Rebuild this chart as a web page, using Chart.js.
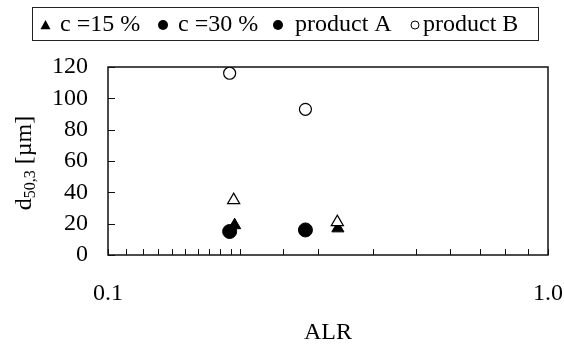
<!DOCTYPE html>
<html>
<head>
<meta charset="utf-8">
<script src="https://cdn.jsdelivr.net/npm/chart.js@4.4.0/dist/chart.umd.min.js"></script>
<style>
  html, body { margin: 0; padding: 0; background: #fff; }
</style>
</head>
<body>
<canvas id="alr-chart" width="564" height="347"></canvas>
<script>
// d50,3 vs ALR
const seriesLabels = ['c =15 %', 'c =30 %', 'product A', 'product B'];
const alrC15 = [0.194, 0.333];
const d50C15 = [19, 17];
const alrC30 = [0.189, 0.281];
const d50C30 = [15, 16];
const alrProdA = [0.193, 0.332];
const d50ProdA = [35, 21];
const alrProdB = [0.189, 0.281];
const d50ProdB = [116, 93];
const xTickText = { 0.1: '0.1', 1: '1.0' };

const serif = "'Liberation Serif', 'Times New Roman', serif";

function toPoints(xs, ys) {
  return xs.map((x, i) => ({ x: x, y: ys[i] }));
}

// frame + inward tick marks
const framePlugin = {
  id: 'frame',
  beforeDatasetsDraw(chart) {
    const ctx = chart.ctx;
    const a = chart.chartArea;
    const xs = chart.scales.x, ys = chart.scales.y;
    ctx.save();
    ctx.strokeStyle = '#111';
    ctx.lineWidth = 1;
    ys.ticks.forEach(t => {
      const py = Math.round(ys.getPixelForValue(t.value)) + 0.5;
      ctx.beginPath(); ctx.moveTo(a.left, py); ctx.lineTo(a.left + 7, py); ctx.stroke();
    });
    xs.ticks.forEach(t => {
      const px = Math.round(xs.getPixelForValue(t.value)) + 0.5;
      ctx.beginPath(); ctx.moveTo(px, a.bottom); ctx.lineTo(px, a.bottom - 6); ctx.stroke();
    });
    ctx.lineWidth = 1.5;
    ctx.strokeRect(a.left, a.top, a.right - a.left, a.bottom - a.top);
    ctx.restore();
  }
};

function drawMarker(ctx, m, cx, cy) {
  ctx.beginPath();
  if (m.shape === 'triangle') {
    const r = m.size;
    ctx.moveTo(cx, cy - r);
    ctx.lineTo(cx + r, cy + r * 0.85);
    ctx.lineTo(cx - r, cy + r * 0.85);
    ctx.closePath();
  } else {
    ctx.arc(cx, cy, m.size, 0, Math.PI * 2);
  }
  if (m.filled) {
    ctx.fillStyle = '#000';
    ctx.fill();
  } else {
    ctx.fillStyle = '#fff';
    ctx.fill();
    ctx.strokeStyle = '#000';
    ctx.lineWidth = 1;
    ctx.stroke();
  }
}

// boxed legend on top + y title with subscript
const legendPlugin = {
  id: 'boxLegend',
  afterDraw(chart) {
    const ctx = chart.ctx;
    ctx.save();
    ctx.strokeStyle = '#222';
    ctx.lineWidth = 1;
    ctx.strokeRect(32.5, 7.5, 506, 33);

    const markerX = [45.5, 163, 278, 415];
    const textX = [60, 178, 295, 423];
    ctx.font = '24px ' + serif;
    ctx.textBaseline = 'middle';
    ctx.textAlign = 'left';
    chart.data.datasets.forEach((ds, i) => {
      drawMarker(ctx, ds.legendMarker, markerX[i], 25);
      ctx.fillStyle = '#000';
      ctx.fillText(ds.label, textX[i], 25);
    });

    // y axis title: d50,3 [µm]
    const big = '24px ' + serif, small = '16px ' + serif;
    ctx.font = big;
    const w1 = ctx.measureText('d').width;
    const w3 = ctx.measureText(' [µm]').width;
    ctx.font = small;
    const w2 = ctx.measureText('50,3').width;
    const total = w1 + w2 + w3;
    const a = chart.chartArea;
    ctx.translate(25, (a.top + a.bottom) / 2 + 2);
    ctx.rotate(-Math.PI / 2);
    ctx.textBaseline = 'middle';
    let x0 = -total / 2;
    ctx.fillStyle = '#000';
    ctx.font = big;
    ctx.fillText('d', x0, 0);
    ctx.font = small;
    ctx.fillText('50,3', x0 + w1, 6);
    ctx.font = big;
    ctx.fillText(' [µm]', x0 + w1 + w2, 0);
    ctx.restore();
  }
};

const datasets = [
  {
    label: seriesLabels[0],
    data: toPoints(alrC15, d50C15),
    pointStyle: 'triangle',
    pointRadius: 7,
    backgroundColor: '#000',
    borderColor: '#000',
    borderWidth: 1,
    order: 3,
    legendMarker: { shape: 'triangle', size: 5, filled: true }
  },
  {
    label: seriesLabels[1],
    data: toPoints(alrC30, d50C30),
    pointStyle: 'circle',
    pointRadius: 7,
    backgroundColor: '#000',
    borderColor: '#000',
    borderWidth: 1,
    order: 2,
    legendMarker: { shape: 'circle', size: 5, filled: true }
  },
  {
    label: seriesLabels[2],
    data: toPoints(alrProdA, d50ProdA),
    pointStyle: 'triangle',
    pointRadius: 7,
    backgroundColor: '#fff',
    borderColor: '#000',
    borderWidth: 1.2,
    order: 0,
    legendMarker: { shape: 'circle', size: 5, filled: true }
  },
  {
    label: seriesLabels[3],
    data: toPoints(alrProdB, d50ProdB),
    pointStyle: 'circle',
    pointRadius: 6,
    backgroundColor: '#fff',
    borderColor: '#000',
    borderWidth: 1.2,
    order: 1,
    legendMarker: { shape: 'circle', size: 4, filled: false }
  }
];

const ctx = document.getElementById('alr-chart');
new Chart(ctx, {
  type: 'scatter',
  data: { datasets: datasets },
  options: {
    responsive: false,
    animation: false,
    layout: { padding: { top: 67, right: 16, left: 0, bottom: 0 } },
    plugins: {
      legend: { display: false },
      tooltip: { enabled: false }
    },
    scales: {
      x: {
        type: 'logarithmic',
        min: 0.1,
        max: 1,
        grid: { display: false, drawTicks: false },
        border: { display: false },
        ticks: {
          autoSkip: false,
          maxRotation: 0,
          padding: 24,
          color: '#000',
          font: { family: serif, size: 24 },
          callback: (v) => xTickText[v] || ''
        },
        title: {
          display: true,
          text: 'ALR',
          color: '#000',
          font: { family: serif, size: 24 },
          padding: { top: 0, bottom: 0 }
        },
        afterFit: (s) => {
          s.height = 92;
          s.paddingLeft = 0;
          s.paddingRight = 0;
        }
      },
      y: {
        min: 0,
        max: 120,
        grid: { display: false, drawTicks: false },
        border: { display: false },
        ticks: {
          autoSkip: false,
          stepSize: 20,
          padding: 20,
          color: '#000',
          font: { family: serif, size: 24 }
        },
        afterFit: (s) => {
          s.width = 108;
          s.paddingTop = 0;
          s.paddingBottom = 0;
        }
      }
    }
  },
  plugins: [framePlugin, legendPlugin]
});
</script>
</body>
</html>
